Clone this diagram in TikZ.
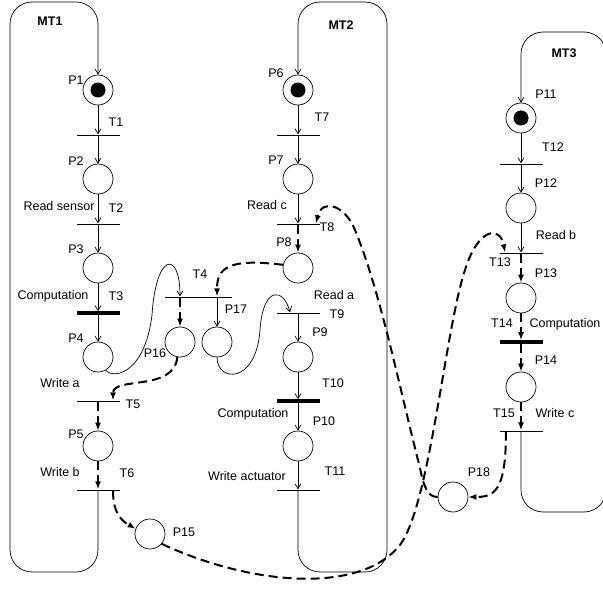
\documentclass[tikz,border=0pt]{standalone}
\usepackage{fontspec}
\setmainfont{Liberation Sans}
\usetikzlibrary{arrows.meta, positioning, calc}

\begin{document}
\begin{tikzpicture}[x=1pt, y=-1pt,
  place/.style={draw, circle, minimum size=30pt, inner sep=0pt, line width=0.7pt},
  marked/.style={place, path picture={\fill (path picture bounding box.center) circle (7.5pt);}},
  trans/.style={fill=black, minimum width=43pt, minimum height=0.9pt, inner sep=0pt},
  ctrans/.style={trans, minimum height=3.2pt},
  lbl/.style={inner sep=0pt, text height=9pt, text depth=0pt, font=\fontsize{12.5}{14}\selectfont},
  mt/.style={lbl, font=\fontsize{12.5}{14}\selectfont\bfseries},
  arc/.style={-{Straight Barb[length=5pt,width=6pt]}, line width=0.7pt},
  flow/.style={-{Latex[length=8pt,width=6pt]}, line width=2pt, dash pattern=on 9pt off 5pt}
]
  \useasboundingbox (0,0) rectangle (603,591);

  \node[mt] (mt1) at (50,21) {MT1};
  \node[mt] (mt2) at (341,25) {MT2};
  \node[mt] (mt3) at (564,53) {MT3};

  \node[marked] (p1) at (98,90) {};
  \node[trans] (t1) at (98,135) {};
  \node[place] (p2) at (98,179) {};
  \node[trans] (t2) at (98,224) {};
  \node[place] (p3) at (98,268) {};
  \node[ctrans] (t3) at (98,313) {};
  \node[place] (p4) at (98,357) {};
  \node[trans] (t5) at (98,401) {};
  \node[place] (p5) at (98,446) {};
  \node[trans] (t6) at (98,490) {};
  \node[place] (p15) at (150,534) {};
  \node[trans, minimum width=67pt] (t4) at (198,297) {};
  \node[place] (p16) at (180,342) {};
  \node[place] (p17) at (217,342) {};

  \node[marked] (p6) at (298,90) {};
  \node[trans] (t7) at (298,135) {};
  \node[place] (p7) at (298,179) {};
  \node[trans] (t8) at (298,224) {};
  \node[place] (p8) at (298,268) {};
  \node[trans] (t9) at (298,313) {};
  \node[place] (p9) at (298,357) {};
  \node[ctrans] (t10) at (298,401) {};
  \node[place] (p10) at (298,446) {};
  \node[trans] (t11) at (298,490) {};

  \node[marked] (p11) at (521,118) {};
  \node[trans] (t12) at (521,164) {};
  \node[place] (p12) at (521,208) {};
  \node[trans] (t13) at (521,253) {};
  \node[place] (p13) at (521,298) {};
  \node[ctrans] (t14) at (521,342) {};
  \node[place] (p14) at (521,387) {};
  \node[trans] (t15) at (521,431) {};
  \node[place] (p18) at (453,497) {};

  \node[lbl] (lp1) at (76,80) {P1};
  \node[lbl] (lt1) at (116,122) {T1};
  \node[lbl] (lp2) at (76,161) {P2};
  \node[lbl] (rsensor) at (59,206) {Read sensor};
  \node[lbl] (lt2) at (116,208) {T2};
  \node[lbl] (lp3) at (76,249) {P3};
  \node[lbl] (comp1) at (53,295) {Computation};
  \node[lbl] (lt3) at (116,296) {T3};
  \node[lbl] (lp4) at (76,338) {P4};
  \node[lbl] (wa) at (60,383) {Write a};
  \node[lbl] (lt5) at (133,404) {T5};
  \node[lbl] (lp5) at (76,434) {P5};
  \node[lbl] (wb) at (60,472) {Write b};
  \node[lbl] (lt6) at (127,473) {T6};
  \node[lbl] (lp15) at (184,532) {P15};
  \node[lbl] (lp16) at (155,353) {P16};
  \node[lbl] (lp17) at (236,309) {P17};
  \node[lbl] (lt4) at (200,274) {T4};

  \node[lbl] (lp6) at (276,73) {P6};
  \node[lbl] (lt7) at (322,117) {T7};
  \node[lbl] (lp7) at (276,160) {P7};
  \node[lbl] (rc) at (267,205) {Read c};
  \node[lbl] (lt8) at (327,227) {T8};
  \node[lbl] (lp8) at (284,242) {P8};
  \node[lbl] (ra) at (334,295) {Read a};
  \node[lbl] (lt9) at (337,314) {T9};
  \node[lbl] (lp9) at (320,332) {P9};
  \node[lbl] (lt10) at (333,383) {T10};
  \node[lbl] (comp2) at (253,413) {Computation};
  \node[lbl] (lp10) at (324,421) {P10};
  \node[lbl] (wact) at (247,476) {Write actuator};
  \node[lbl] (lt11) at (335,471) {T11};

  \node[lbl] (lp11) at (546,94) {P11};
  \node[lbl] (lt12) at (553,147) {T12};
  \node[lbl] (lp12) at (546,183) {P12};
  \node[lbl] (rb) at (556,235) {Read b};
  \node[lbl] (lt13) at (500,262) {T13};
  \node[lbl] (lp13) at (546,273) {P13};
  \node[lbl] (lt14) at (502,323) {T14};
  \node[lbl] (comp3) at (565,323) {Computation};
  \node[lbl] (lp14) at (546,360) {P14};
  \node[lbl] (lt15) at (504,413) {T15};
  \node[lbl] (wc) at (555,413) {Write c};
  \node[lbl] (lp18) at (479,472) {P18};

  \draw[arc] (p1) -- (t1);
  \draw[arc] (t1) -- (p2);
  \draw[arc] (p2) -- (t2);
  \draw[arc] (t2) -- (p3);
  \draw[arc] (p3) -- (t3);
  \draw[arc] (t3) -- (p4);
  \draw[arc] (p4.-60) .. controls (115,380) and (145,372) .. (152,315) .. controls (156,252) and (180,250) .. (p16 |- t4.north);
  \draw[arc] (p17 |- t4.south) -- (p17);
  \draw[arc] (p17.south) .. controls (217,382) and (256,385) .. (260,330) .. controls (263,285) and (284,288) .. ([xshift=-8pt]t9.north);
  \draw[arc] (p6) -- (t7);
  \draw[arc] (t7) -- (p7);
  \draw[arc] (p7) -- (t8);
  \draw[arc] (t9) -- (p9);
  \draw[arc] (p9) -- (t10);
  \draw[arc] (t10) -- (p10);
  \draw[arc] (p10) -- (t11);
  \draw[arc] (p11) -- (t12);
  \draw[arc] (t12) -- (p12);
  \draw[arc] (p12) -- (t13);

  \draw[arc, rounded corners=22pt] (t6) -- (98,572) -- (10,572) -- (10,2) -- (98,2) -- (p1);
  \draw[arc, rounded corners=22pt] (t11) -- (298,572) -- (387,572) -- (387,2) -- (298,2) -- (p6);
  \draw[arc, rounded corners=22pt] (t15) -- (521,512) -- (606,512) -- (606,32) -- (521,32) -- (p11);

  \draw[flow] (p16 |- t4.south) -- (p16);
  \draw[flow] (p8.168) .. controls (228,258) and (217,268) .. (p17 |- t4.north);
  \draw[flow] (p16.-100) .. controls (174,392) and (113,376) .. ([xshift=15pt]t5.north);
  \draw[flow] (t5) -- (p5);
  \draw[flow] (p5) -- (t6);
  \draw[flow] ([xshift=15pt]t6.south) .. controls (113,516) and (124,522) .. (p15.160);
  \draw[flow] (p15.-40) .. controls (250,585) and (360,595) .. (400,545) .. controls (430,505) and (445,330) .. (465,270) .. controls (478,228) and (500,225) .. ([xshift=-16pt]t13.north);
  \draw[flow] (p18.180) .. controls (428,497) and (424,488) .. (420,468) .. controls (400,390) and (380,290) .. (355,230) .. controls (345,205) and (322,198) .. ([xshift=18pt]t8.north);
  \draw[flow] (t8) -- (p8);
  \draw[flow] (t13) -- (p13);
  \draw[flow] (p13) -- (t14);
  \draw[flow] (t14) -- (p14);
  \draw[flow] (p14) -- (t15);
  \draw[flow] ([xshift=-15pt]t15.south) .. controls (506,492) and (494,497) .. (p18.east);
\end{tikzpicture}
\end{document}
